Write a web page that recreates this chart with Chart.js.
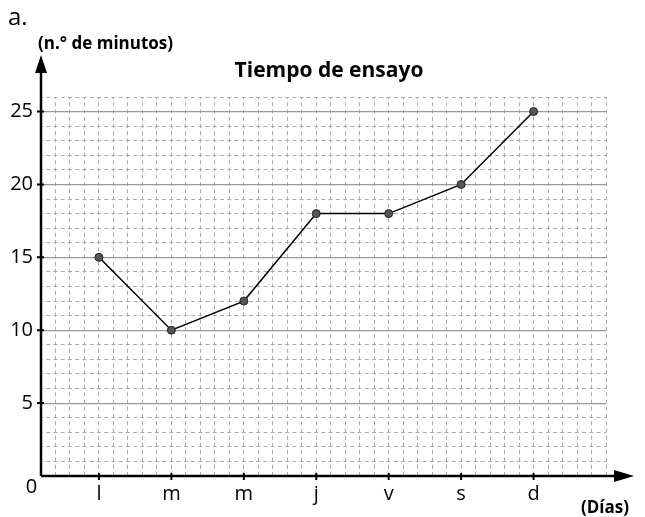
<!DOCTYPE html>
<html lang="es">
<head>
  <meta charset="UTF-8" />
  <title>Tiempo de ensayo</title>
  <script src="https://cdn.jsdelivr.net/npm/chart.js"></script>
  <style>
    body {
      margin: 0;
      background-color: #fff;
    }
    canvas {
      display: block;
    }
  </style>
</head>
<body>
  <canvas id="myChart" width="645" height="517"></canvas>

  <script>
    // Days of the week and practice minutes
    const days = ['l', 'm', 'm', 'j', 'v', 's', 'd'];
    const minutes = [15, 10, 12, 18, 18, 20, 25];
    const yLabels = [5, 10, 15, 20, 25];

    // Grid paper: every day sits 5 small squares apart, starting at square 4
    const firstDay = 4;
    const daySpan = 5;
    const xMax = 39;
    const yMax = 26;

    const FONT = '"Open Sans", sans-serif';

    const points = days.map((d, i) => ({ x: firstDay + daySpan * i, y: minutes[i] }));

    const dayAt = (v) => {
      const k = (v - firstDay) / daySpan;
      return Number.isInteger(k) && k >= 0 && k < days.length ? days[k] : '';
    };

    // Axes with arrows, little tick marks and the loose texts
    const paperPlugin = {
      id: 'paper',
      beforeDatasetsDraw(chart) {
        const { ctx, chartArea: a, scales } = chart;
        const x0 = a.left;
        const y0 = a.bottom;
        ctx.save();
        ctx.strokeStyle = '#000';
        ctx.fillStyle = '#000';
        ctx.lineWidth = 2.5;
        ctx.beginPath();
        ctx.moveTo(x0, y0);
        ctx.lineTo(x0, 70);
        ctx.moveTo(x0, y0);
        ctx.lineTo(616, y0);
        ctx.stroke();
        // arrow heads
        ctx.beginPath();
        ctx.moveTo(x0, 55);
        ctx.lineTo(x0 - 6, 73);
        ctx.lineTo(x0 + 6, 73);
        ctx.closePath();
        ctx.fill();
        ctx.beginPath();
        ctx.moveTo(634, y0);
        ctx.lineTo(614, y0 - 6);
        ctx.lineTo(614, y0 + 6);
        ctx.closePath();
        ctx.fill();
        // tick marks
        ctx.lineWidth = 2;
        ctx.beginPath();
        days.forEach((d, i) => {
          const px = scales.x.getPixelForValue(firstDay + daySpan * i);
          ctx.moveTo(px, y0 - 3);
          ctx.lineTo(px, y0 + 4);
        });
        yLabels.forEach(v => {
          const py = scales.y.getPixelForValue(v);
          ctx.moveTo(x0 - 4, py);
          ctx.lineTo(x0 + 3, py);
        });
        ctx.stroke();

        // texts
        ctx.textBaseline = 'alphabetic';
        ctx.textAlign = 'left';
        ctx.font = '24px ' + FONT;
        ctx.fillText('a.', 8, 25);
        ctx.font = 'bold 17px ' + FONT;
        ctx.fillText('(n.° de minutos)', 38, 49);
        ctx.textAlign = 'center';
        ctx.font = 'bold 21px ' + FONT;
        ctx.fillText('Tiempo de ensayo', 329, 77);
        ctx.font = '20px ' + FONT;
        ctx.fillText('0', 31.5, 493);
        ctx.textAlign = 'right';
        ctx.font = 'bold 17px ' + FONT;
        ctx.fillText('(Días)', 629, 513);
        ctx.restore();
      }
    };

    const ctx = document.getElementById('myChart').getContext('2d');

    const config = {
      type: 'line',
      data: {
        datasets: [{
          data: points,
          borderColor: '#000',
          borderWidth: 1.5,
          tension: 0,
          fill: false,
          pointRadius: 4,
          pointBackgroundColor: '#555',
          pointBorderColor: '#222',
          pointBorderWidth: 1,
        }]
      },
      options: {
        responsive: false,
        animation: false,
        devicePixelRatio: 1,
        layout: { padding: { top: 97, right: 39, left: 0, bottom: 0 } },
        plugins: {
          legend: { display: false },
          tooltip: { enabled: false },
        },
        scales: {
          x: {
            type: 'linear',
            min: 0,
            max: xMax,
            afterFit: (s) => { s.height = 41; },
            ticks: {
              stepSize: 1,
              autoSkip: false,
              maxRotation: 0,
              padding: 6,
              color: '#000',
              font: { family: FONT, size: 20 },
              callback: (v) => dayAt(v),
            },
            grid: {
              drawTicks: false,
              color: (c) => c.tick && c.tick.value === 0 ? 'rgba(0,0,0,0)' : '#aaa',
              lineWidth: 1,
            },
            border: { display: false, dash: [4, 3.25], dashOffset: 2 },
          },
          y: {
            min: 0,
            max: yMax,
            afterFit: (s) => { s.width = 41; },
            ticks: {
              stepSize: 1,
              autoSkip: false,
              padding: 8,
              color: '#000',
              font: { family: FONT, size: 20 },
              callback: (v) => yLabels.includes(v) ? String(v) : '',
            },
            grid: {
              drawTicks: false,
              color: (c) => c.tick && yLabels.includes(c.tick.value) ? '#999' : 'rgba(0,0,0,0)',
              lineWidth: 1.2,
            },
            border: { display: false },
          },
          yMinor: {
            position: 'left',
            min: 0,
            max: yMax,
            afterFit: (s) => { s.width = 0; },
            ticks: { display: false, stepSize: 1 },
            grid: {
              drawTicks: false,
              color: (c) => c.tick && (c.tick.value % 5 === 0) ? 'rgba(0,0,0,0)' : '#aaa',
              lineWidth: 1,
            },
            border: { display: false, dash: [4, 3.24], dashOffset: 2 },
          },
        }
      },
      plugins: [paperPlugin]
    };

    const myChart = new Chart(ctx, config);
  </script>
</body>
</html>
